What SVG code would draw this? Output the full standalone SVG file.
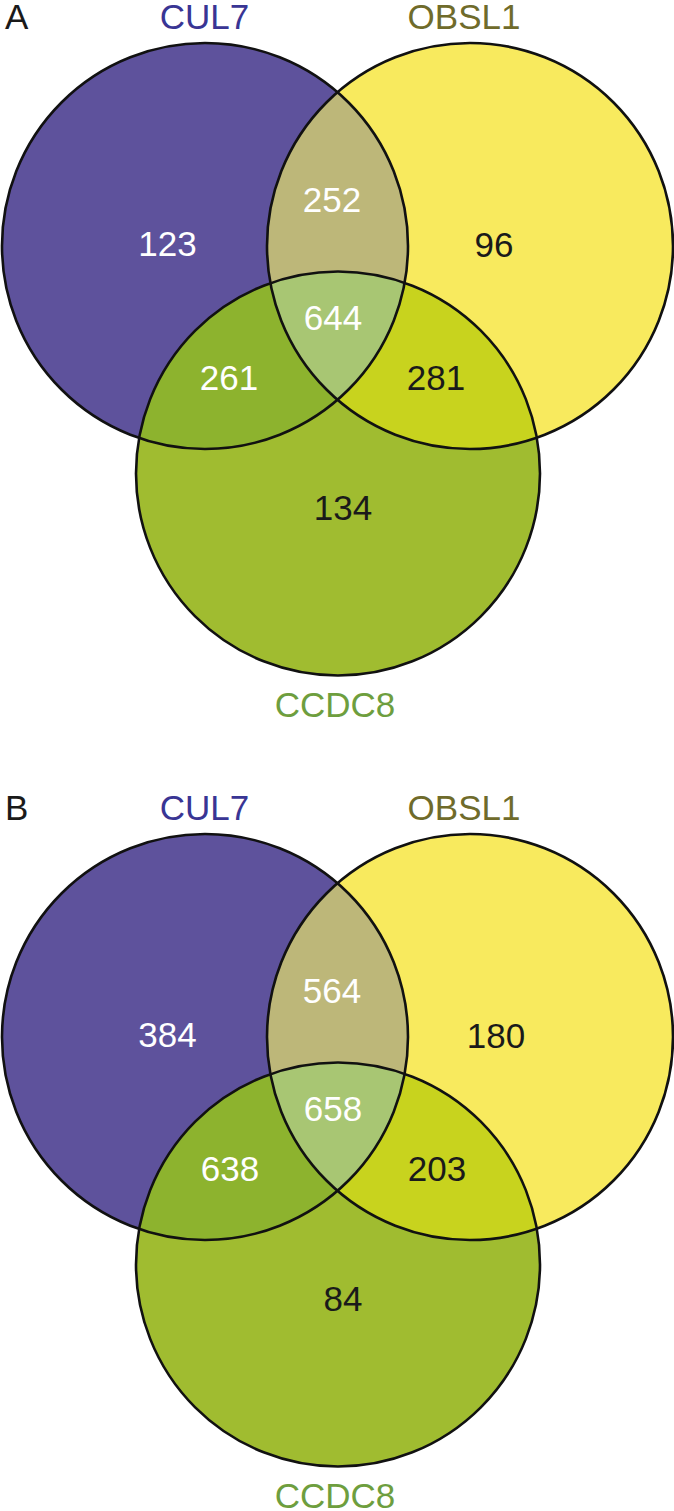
<svg xmlns="http://www.w3.org/2000/svg" xmlns:xlink="http://www.w3.org/1999/xlink" width="674" height="1511" viewBox="0 0 674 1511">
<style>
text{font-family:"Liberation Sans",Arial,sans-serif;font-size:35px;text-anchor:middle}
.w{fill:#ffffff}.k{fill:#1a1a1a}
.panel{fill:#1a1a1a;text-anchor:start}
.outline{fill:none;stroke:#111111;stroke-width:2.6}
</style>
<defs>
<circle id="c1" cx="205" cy="246" r="203"/>
<circle id="c2" cx="470" cy="246" r="203"/>
<circle id="c3" cx="338" cy="473.5" r="202"/>
<clipPath id="k1"><use xlink:href="#c1"/></clipPath>
<clipPath id="k2"><use xlink:href="#c2"/></clipPath>
<g id="venn">
<use xlink:href="#c1" fill="#5E529C"/>
<use xlink:href="#c2" fill="#F8EA5E"/>
<use xlink:href="#c3" fill="#A0BC30"/>
<use xlink:href="#c2" fill="#BDB779" clip-path="url(#k1)"/>
<use xlink:href="#c3" fill="#8DB32E" clip-path="url(#k1)"/>
<use xlink:href="#c3" fill="#C8D31E" clip-path="url(#k2)"/>
<g clip-path="url(#k1)"><use xlink:href="#c3" fill="#A8C673" clip-path="url(#k2)"/></g>
<use xlink:href="#c1" class="outline"/>
<use xlink:href="#c2" class="outline"/>
<use xlink:href="#c3" class="outline"/>
</g>
</defs>
<g id="panelA">
<g id="A-sets"><use xlink:href="#venn"/></g>
<g id="A-labels">
<text class="panel" x="5" y="29">A</text>
<text x="204.5" y="29" fill="#393594">CUL7</text>
<text x="464" y="29" fill="#6F6B2B">OBSL1</text>
<text x="335" y="717" fill="#6E9E3E">CCDC8</text>
</g>
<g id="A-counts">
<text class="w" x="167.5" y="256">123</text>
<text class="w" x="332" y="212">252</text>
<text class="k" x="494" y="257">96</text>
<text class="w" x="333" y="330">644</text>
<text class="w" x="229" y="390">261</text>
<text class="k" x="436" y="390">281</text>
<text class="k" x="343" y="520">134</text>
</g>
</g>
<g id="panelB" transform="translate(0,791)">
<g id="B-sets"><use xlink:href="#venn"/></g>
<g id="B-labels">
<text class="panel" x="5" y="29">B</text>
<text x="204.5" y="29" fill="#393594">CUL7</text>
<text x="464" y="29" fill="#6F6B2B">OBSL1</text>
<text x="335" y="717" fill="#6E9E3E">CCDC8</text>
</g>
<g id="B-counts">
<text class="w" x="167.5" y="256">384</text>
<text class="w" x="332" y="212">564</text>
<text class="k" x="496" y="257">180</text>
<text class="w" x="333" y="330">658</text>
<text class="w" x="230" y="390">638</text>
<text class="k" x="437" y="390">203</text>
<text class="k" x="343" y="520">84</text>
</g>
</g>
<g id="connectors"/>
</svg>
